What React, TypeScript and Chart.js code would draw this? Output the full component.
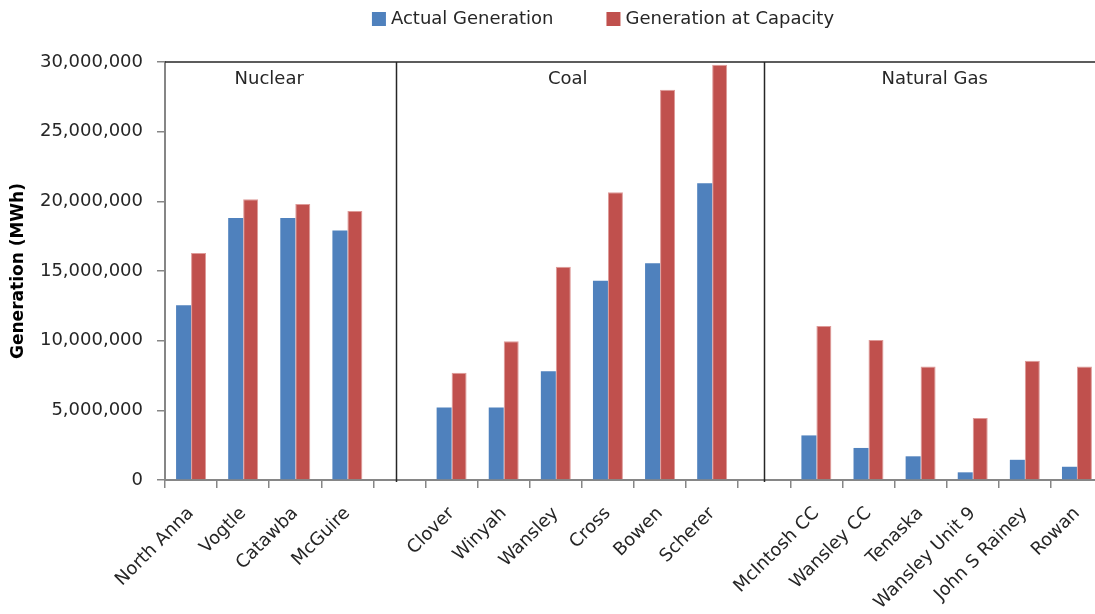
import React, { useEffect, useRef } from "react";
import { Chart, registerables } from "chart.js";
Chart.register(...registerables);

const nuclearPlants = ["North Anna", "Vogtle", "Catawba", "McGuire"];
const nuclearActual = [12550000, 18800000, 18800000, 17900000];
const nuclearCapacity = [16300000, 20150000, 19800000, 19300000];

const coalPlants = ["Clover", "Winyah", "Wansley", "Cross", "Bowen", "Scherer"];
const coalActual = [5200000, 5200000, 7800000, 14300000, 15550000, 21300000];
const coalCapacity = [7700000, 9950000, 15300000, 20650000, 28000000, 29800000];

const gasPlants = ["McIntosh CC", "Wansley CC", "Tenaska", "Wansley Unit 9", "John S Rainey", "Rowan"];
const gasActual = [3200000, 2300000, 1700000, 550000, 1450000, 950000];
const gasCapacity = [11050000, 10050000, 8150000, 4450000, 8550000, 8150000];

const groupNames = ["Nuclear", "Coal", "Natural Gas"];
const seriesNames = ["Actual Generation", "Generation at Capacity"];
const seriesColors = ["#4F81BD", "#C0504D"];
const yMin = 0;
const yMax = 30000000;
const yStep = 5000000;
const yTitle = "Generation (MWh)";

// combined category list with an empty slot between groups
const labels = [...nuclearPlants, "", ...coalPlants, "", ...gasPlants];
const actualData = [...nuclearActual, null, ...coalActual, null, ...gasActual];
const capacityData = [...nuclearCapacity, null, ...coalCapacity, null, ...gasCapacity];
// positions (in category units) of the group dividers and group captions
const dividerPos = [3.93, 11];
const groupLabelPos = [1.5, 7.23, 14.27];

const FONT = "'DejaVu Sans', sans-serif";

const overlayPlugin = {
  id: "overlay",
  afterDraw(chart: any) {
    const { ctx, chartArea } = chart;
    const xs = chart.scales.x;
    ctx.save();
    // top frame line
    ctx.strokeStyle = "#262626";
    ctx.lineWidth = 1.5;
    ctx.beginPath();
    ctx.moveTo(chartArea.left, chartArea.top);
    ctx.lineTo(chartArea.right, chartArea.top);
    ctx.stroke();
    // dividers
    dividerPos.forEach((p) => {
      const x = Math.round(xs.getPixelForValue(p)) + 0.5;
      ctx.beginPath();
      ctx.moveTo(x, chartArea.top);
      ctx.lineTo(x, chartArea.bottom + 2);
      ctx.stroke();
    });
    // group captions
    ctx.fillStyle = "#262626";
    ctx.font = `18px ${FONT}`;
    ctx.textAlign = "center";
    ctx.textBaseline = "middle";
    groupNames.forEach((g, i) => {
      ctx.fillText(g, xs.getPixelForValue(groupLabelPos[i]), chartArea.top + 17);
    });
    // legend
    const box = 14;
    const gapText = 5;
    const gapItem = 53;
    ctx.textAlign = "left";
    const widths = seriesNames.map((n) => box + gapText + ctx.measureText(n).width);
    const total = widths.reduce((a, b) => a + b, 0) + gapItem * (widths.length - 1);
    let x = 603 - total / 2;
    const cy = 19;
    seriesNames.forEach((n, i) => {
      ctx.fillStyle = seriesColors[i];
      ctx.fillRect(x, cy - box / 2, box, box);
      ctx.fillStyle = "#262626";
      ctx.fillText(n, x + box + gapText, cy);
      x += widths[i] + gapItem;
    });
    ctx.restore();
  },
};

export default function App() {
  const ref = useRef<HTMLCanvasElement>(null);
  useEffect(() => {
    if (!ref.current) return;
    const chart = new Chart(ref.current, {
      type: "bar",
      data: {
        labels,
        datasets: [
          {
            label: seriesNames[0],
            data: actualData,
            backgroundColor: seriesColors[0],
            borderWidth: 0,
          },
          {
            label: seriesNames[1],
            data: capacityData,
            backgroundColor: seriesColors[1],
            borderColor: "#DE9A98",
            borderWidth: { top: 1, left: 1, right: 1, bottom: 0 },
          },
        ],
      },
      options: {
        responsive: false,
        animation: false,
        devicePixelRatio: 1,
        layout: { padding: { top: 62, right: 7, left: 0, bottom: 0 } },
        datasets: { bar: { categoryPercentage: 0.575, barPercentage: 1 } },
        plugins: {
          legend: { display: false },
          tooltip: { enabled: false },
        },
        scales: {
          x: {
            type: "category",
            offset: true,
            grid: { offset: true, drawOnChartArea: false, tickLength: 8, color: "#868686", lineWidth: 1.5 },
            border: { color: "#868686", width: 2 },
            ticks: {
              autoSkip: false,
              maxRotation: 45,
              minRotation: 45,
              color: "#262626",
              font: { family: FONT, size: 18 },
              padding: 15,
            },
            afterFit: (s: any) => {
              s.height = 134;
            },
          },
          y: {
            min: yMin,
            max: yMax,
            grid: { drawOnChartArea: false, tickLength: 8, color: "#868686", lineWidth: 1.5 },
            border: { color: "#868686", width: 2 },
            ticks: {
              stepSize: yStep,
              color: "#262626",
              font: { family: FONT, size: 18 },
              padding: 14,
              callback: (v: any) => Number(v).toLocaleString("en-US"),
            },
            title: {
              display: true,
              text: yTitle,
              color: "#000",
              font: { family: FONT, size: 17, weight: "bold" },
              padding: { top: 8, bottom: 0 },
            },
            afterFit: (s: any) => {
              s.width = 165;
            },
          },
        },
      },
      plugins: [overlayPlugin],
    });
    return () => chart.destroy();
  }, []);
  return (
    <div
      style={{
        position: "fixed",
        left: 0,
        top: 0,
        width: 1095,
        height: 614,
        overflow: "hidden",
        background: "#fff",
      }}
    >
      <canvas ref={ref} width={1110} height={614} style={{ display: "block", width: 1110, height: 614 }} />
    </div>
  );
}
